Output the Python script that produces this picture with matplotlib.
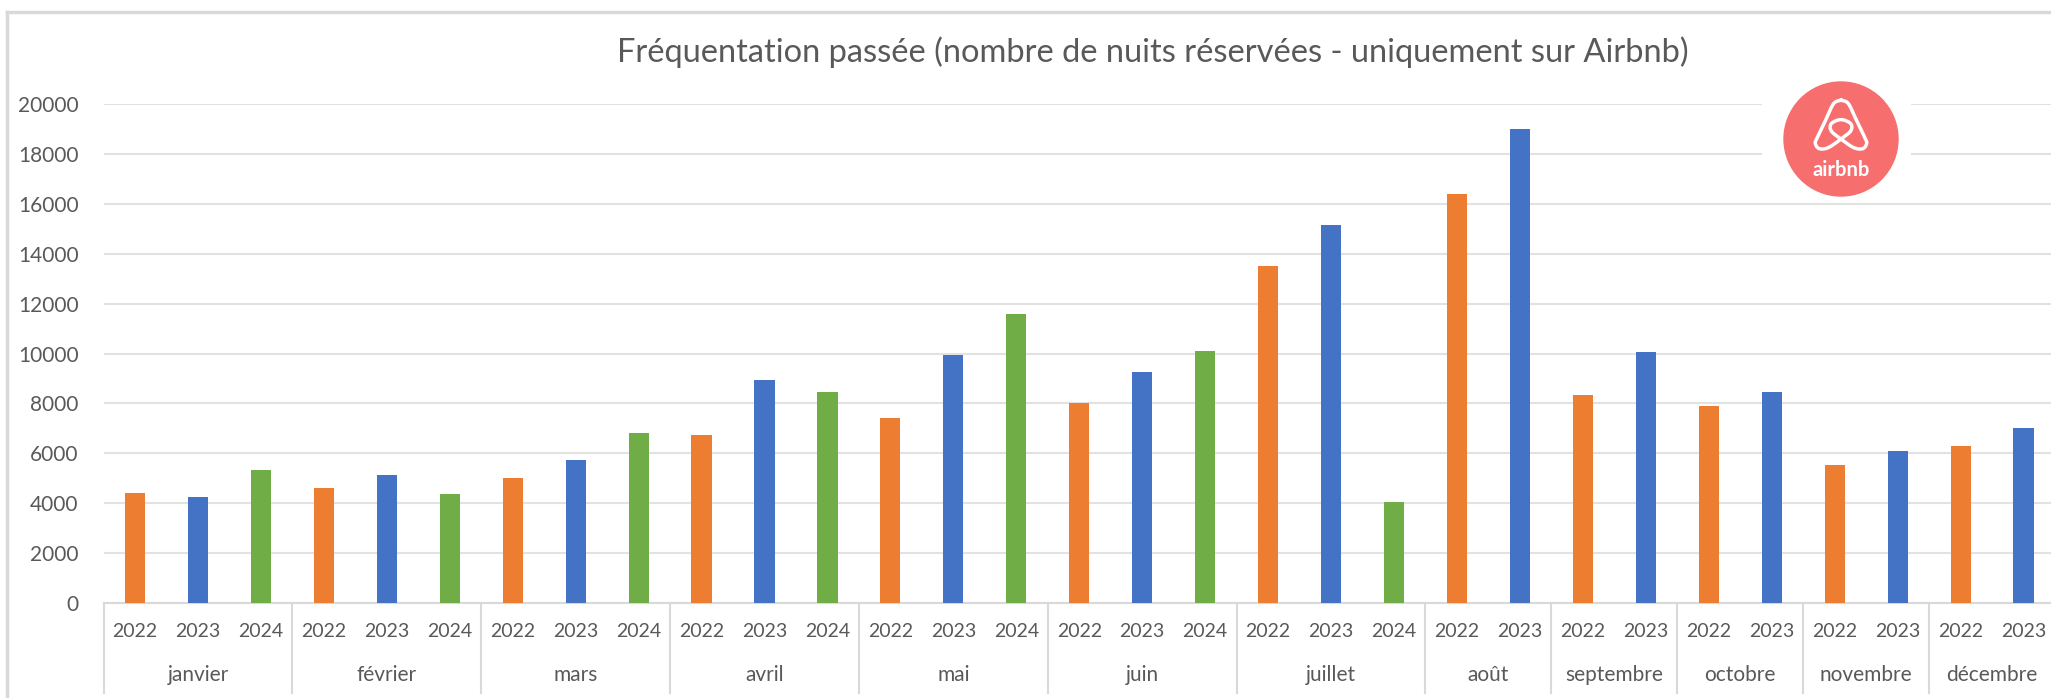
import numpy as np
import matplotlib
matplotlib.use('Agg')
import matplotlib.pyplot as plt
from matplotlib.lines import Line2D
from matplotlib.patches import Circle
import matplotlib.transforms as mtransforms

plt.rcParams['font.family'] = ['Lato', 'DejaVu Sans']

# Data (nights booked on Airbnb)
months = ['janvier', 'février', 'mars', 'avril', 'mai', 'juin', 'juillet',
          'août', 'septembre', 'octobre', 'novembre', 'décembre']
years = ['2022', '2023', '2024']
v2022 = [4400, 4600, 5000, 6750, 7400, 8000, 13500, 16400, 8350, 7900, 5550, 6300]
v2023 = [4250, 5150, 5750, 8950, 9950, 9250, 15150, 19000, 10050, 8450, 6100, 7000]
v2024 = [5350, 4350, 6800, 8450, 11600, 10100, 4050]  # janvier..juillet only
year_colors = {'2022': '#ED7D31', '2023': '#4472C4', '2024': '#70AD47'}

text_col = '#595959'
grid_col = '#e2e2e2'
W, H = 2051, 698

# build flat bar list
xs, vals, labs, cols = [], [], [], []
month_spans = []
pos = 0
for i, m in enumerate(months):
    series = [v2022[i], v2023[i]] + ([v2024[i]] if i < len(v2024) else [])
    start = pos
    for j, v in enumerate(series):
        xs.append(pos)
        vals.append(v)
        labs.append(years[j])
        cols.append(year_colors[years[j]])
        pos += 1
    month_spans.append((start, pos - 1))

fig = plt.figure(figsize=(W / 100, H / 100), dpi=100)

left, right, bottom, top = 103.5, 2055, 603, 104
ax = fig.add_axes([left / W, (H - bottom) / H, (right - left) / W, (bottom - top) / H])
ax.bar(xs, vals, width=0.32, color=cols, zorder=3)
ax.set_xlim(-0.5, len(xs) - 0.5)
ax.set_ylim(0, 20000)
ax.set_yticks(np.arange(0, 20001, 2000))
ax.yaxis.grid(True, color=grid_col, linewidth=1.5, zorder=0)
ax.tick_params(axis='y', length=0, pad=18, labelsize=15, labelcolor=text_col)
ax.set_xticks([])
for s in ['top', 'right', 'left']:
    ax.spines[s].set_visible(False)
ax.spines['bottom'].set_color('#d9d9d9')
ax.spines['bottom'].set_linewidth(1.5)

trans = mtransforms.blended_transform_factory(ax.transData, ax.transAxes)
for x, lab in zip(xs, labs):
    ax.text(x, -0.058, lab, transform=trans, ha='center', va='center',
            fontsize=14, color=text_col, clip_on=False)
for (a, b), m in zip(month_spans, months):
    ax.text((a + b) / 2, -0.144, m, transform=trans, ha='center', va='center',
            fontsize=15, color=text_col, clip_on=False)
    ax.add_line(Line2D([a - 0.5, a - 0.5], [0, -0.18], transform=trans,
                       color='#d9d9d9', linewidth=1.5, clip_on=False))

fig.text(1153 / W, 1 - 52 / H,
         'Fréquentation passée (nombre de nuits réservées - uniquement sur Airbnb)',
         ha='center', va='center', fontsize=23.5, color=text_col)

# chart border
fig.add_artist(Line2D([7 / W, 1], [1 - 12 / H, 1 - 12 / H], color='#d9d9d9', linewidth=2.5))
fig.add_artist(Line2D([7 / W, 7 / W], [0, 1 - 12 / H], color='#d9d9d9', linewidth=2.5))

# airbnb logo
cx, cy, r = 1841, 139, 57
x0, x1, y0, y1 = 1762, 1911, 80, 197
lax = fig.add_axes([x0 / W, (H - y1) / H, (x1 - x0) / W, (y1 - y0) / H])
lax.set_xlim(x0 - cx, x1 - cx)
lax.set_ylim(cy - y1, cy - y0)
lax.set_facecolor('white')
for s in lax.spines.values():
    s.set_visible(False)
lax.set_xticks([])
lax.set_yticks([])
lax.add_patch(Circle((0, 0), r, color='#F66E6E'))


def smooth(pts, n=10):
    P = np.asarray(pts, dtype=float)
    P = np.vstack([P[0], P, P[-1]])
    out = []
    for i in range(1, len(P) - 2):
        p0, p1, p2, p3 = P[i - 1], P[i], P[i + 1], P[i + 2]
        for t in np.linspace(0, 1, n, endpoint=False):
            out.append(0.5 * (2 * p1 + (-p0 + p2) * t + (2 * p0 - 5 * p1 + 4 * p2 - p3) * t ** 2
                              + (-p0 + 3 * p1 - 3 * p2 + p3) * t ** 3))
    out.append(P[-2])
    return np.array(out)


belo = [(0, 0.68), (-0.13, 0.62), (-0.27, 0.33), (-0.42, 0.02), (-0.45, -0.08),
        (-0.38, -0.17), (-0.22, -0.15), (0, 0.0), (0.17, 0.14), (0.17, 0.27),
        (0, 0.34), (-0.17, 0.27), (-0.17, 0.14), (0, 0.0), (0.22, -0.15),
        (0.38, -0.17), (0.45, -0.08), (0.42, 0.02), (0.27, 0.33), (0.13, 0.62), (0, 0.68)]
bp = smooth(belo) * r
lax.plot(bp[:, 0], bp[:, 1], color='white', linewidth=2.5, solid_joinstyle='round')
lax.text(0, -0.55 * r, 'airbnb', color='white', fontsize=14.5, fontweight='bold',
         ha='center', va='center')

fig.savefig('out.png', dpi=100, facecolor='white')
